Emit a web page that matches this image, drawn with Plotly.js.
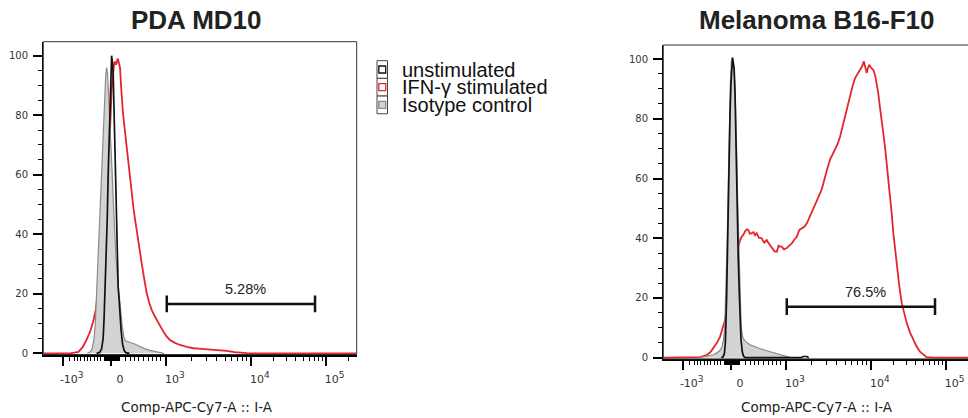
<!DOCTYPE html>
<html>
<head>
<meta charset="utf-8">
<script src="https://cdn.plot.ly/plotly-3.0.1.min.js"></script>
<style>
  html, body { margin: 0; padding: 0; overflow: hidden; background: #fff; }
  #chart { width: 980px; height: 418px; }
</style>
</head>
<body>
<div id="chart"></div>
<script>
// ---- Data (x in display channels of the biexponential axis, 0..1000; y = % of max) ----
const panelTitles = ["PDA MD10", "Melanoma B16-F10"];
const seriesNames = ["unstimulated", "IFN-\u03b3 stimulated", "Isotype control"];
const axisTitle = "Comp-APC-Cy7-A :: I-A";

// axis tick positions (display channel) and labels
const majorTickVals = [62, 216, 391, 662, 901];
const supStyle = "<span style='font-size:9px'>";
const majorTickText = ["-10<sup>" + supStyle + "3</span></sup>", "0", "10<sup>" + supStyle + "3</span></sup>", "10<sup>" + supStyle + "4</span></sup>", "10<sup>" + supStyle + "5</span></sup>"];
const negLinearTicks = [85, 99, 110, 120, 131, 142, 151, 163, 172, 184];
const posLinearTicks = [261, 277, 290, 305, 319, 335, 348, 362, 375];

// gate
const gateX = [394, 867];
const gateY = [16.6, 17.1];
const gateLabels = ["5.28%", "76.5%"];

// PDA MD10
const pdaRedX = [0,85,112,125,138,150,160,168,175,181,186,192,197,204,209,213,218,223,226,229,232,234,237,239,242,245,248,250,254,258,262,266,271,276,282,288,293,298,303,309,314,322,330,338,346,354,362,372,383,394,404,420,436,458,479,505,532,560,585,610,628,650,681,1000];
const pdaRedY = [0,0,0.5,2,4.5,7.5,11,15,21,27,32.5,40,46,58,67,75,88.5,96.3,97.5,98,97,97.5,99,98.6,97.5,95.8,90,86,81,77,73,70,64,58.5,52.6,48.5,44.8,41,37,33.5,30.2,25,20.2,17,14.5,12.8,11.2,9,7.3,5.6,4.5,3.5,2.8,2.2,1.7,1.5,1.3,1.0,0.8,0.4,0.2,0.05,0,0];
const pdaUnstimX = [170,180,186,191,194,197,200,204,207,211,214,216,218,220,223,225,227,229,231,234,236,239,242,245,248,253,258,263,275];
const pdaUnstimY = [0,0.3,1.5,5,12,20,28,45,60,78,90,96,100,98,94,85,75,62,50,37,28,22,18,12,8,3,1,0.2,0];
const pdaIsoX = [140,150,156,162,166,170,174,177,181,184,188,191,195,199,202,205,208,212,216,220,224,228,232,237,242,247,252,257,262,270,280,290,300,312,325,340,355,370,385];
const pdaIsoY = [0,0.5,1.5,5,10,20,30,40,50,60,70,78,87,93,96,94,88,80,70,60,50,40,32,25,19,14,9,5.5,4.2,3.9,3.6,3.2,2.7,2.1,1.5,1.0,0.6,0.3,0];

// Melanoma B16-F10
const melRedX = [0,100,117,128,138,150,160,170,181,190,197,202,207,212,218,226,234,240,245,250,255,262,267,271,276,282,288,293,298,305,314,322,330,335,340,347,355,362,368,372,378,385,394,402,410,418,426,434,442,450,458,466,474,482,490,498,505,511,516,524,532,540,548,556,564,572,580,588,596,604,612,620,628,634,640,645,649,653,657,663,670,676,681,686,691,697,702,708,713,718,723,729,734,740,745,753,761,769,777,787,798,808,819,830,840,862,1000];
const melRedY = [0,0,0.2,0.5,0.9,1.8,3.1,4.8,7,9.8,12.6,16,20.4,24.5,28.3,31.5,35,38,39.4,40.5,41.1,42.5,43,42.8,41.5,41.7,42,41,41.7,40.2,40,38.5,39.4,38.5,37.8,36.5,35.6,35.5,37.5,37.2,37.2,36.3,36.7,37.5,38.3,39.5,40.5,42.8,43.4,43.8,45,47,48.9,50.8,52.8,54.5,56.2,58.5,60.7,63.5,66.3,68,69.6,71.5,74,77.5,80.8,84,87.5,91,93.6,95,96.4,97.5,99.2,97,95.3,97,98.1,97,96.4,94.5,92,88.5,84.1,80,75.2,70,65.1,59.5,54,48,41.7,36,30.5,24,18.2,14.5,11.5,8.5,5.9,3.8,2,0.9,0.2,0,0];
const melUnstimX = [185,191,195,198,202,205,207,210,213,216,218,221,223,226,229,231,234,236,239,243,246,248,252,256,262,440,446,458,464];
const melUnstimY = [0,0.3,1.5,5,20,38,54,70,82,92,98,100.5,99,97,88,76,62,48,34,20,11,6,2,0.5,0,0,0.4,0.4,0];
const melIsoX = [115,130,145,160,172,181,187,192,196,200,204,208,211,214,217,220,223,226,229,232,235,237,240,243,245,248,250,253,258,265,277,293,308,325,340,360,383,398,410];
const melIsoY = [0,0.3,0.6,1,1.7,2.5,3.5,6,10,22,40,62,80,92,99,100.5,99,96,90,80,66,54,40,28,20,12,9,7,6,5.2,4.3,3.6,3.1,2.5,2,1.4,0.8,0.3,0];

// ---- Styling ----
const W = 980, H = 418;
const RED = '#e3262d', BLACK = '#111111', GREYLINE = '#8a8a8a', GREYFILL = '#d3d3d3';
const px = x => x / W;
const py = y => 1 - y / H;

// minor ticks on the x axis
function logMinor(a, b) { const out = []; for (let k = 2; k <= 9; k++) out.push(a + (b - a) * Math.log10(k)); return out; }
const clusterTicks = []; for (let c = 196; c <= 244; c += 3) clusterTicks.push(c);
const xMinor = [].concat(negLinearTicks, clusterTicks, posLinearTicks,
  logMinor(majorTickVals[2], majorTickVals[3]), logMinor(majorTickVals[3], majorTickVals[4]),
  [majorTickVals[4] + (majorTickVals[4] - majorTickVals[3]) * Math.log10(2)]);

function panelTraces(xa, ya, redX, redY, unX, unY, isoX, isoY, gi) {
  return [
    { x: redX, y: redY, xaxis: xa, yaxis: ya, type: 'scatter', mode: 'lines', line: { color: RED, width: 1.8 }, hoverinfo: 'skip', showlegend: false },
    { x: isoX, y: isoY, xaxis: xa, yaxis: ya, type: 'scatter', mode: 'lines', fill: 'tozeroy', fillcolor: GREYFILL, line: { color: GREYLINE, width: 1.2 }, hoverinfo: 'skip', showlegend: false },
    { x: unX, y: unY, xaxis: xa, yaxis: ya, type: 'scatter', mode: 'lines', line: { color: BLACK, width: 1.7 }, hoverinfo: 'skip', showlegend: false },
    { x: gateX, y: [gateY[gi], gateY[gi]], xaxis: xa, yaxis: ya, type: 'scatter', mode: 'lines+markers',
      line: { color: BLACK, width: 2.5 }, marker: { symbol: 'line-ns-open', size: 12, line: { width: 2.5, color: BLACK } },
      hoverinfo: 'skip', showlegend: false }
  ];
}

const data = [].concat(
  panelTraces('x', 'y', pdaRedX, pdaRedY, pdaUnstimX, pdaUnstimY, pdaIsoX, pdaIsoY, 0),
  panelTraces('x2', 'y2', melRedX, melRedY, melUnstimX, melUnstimY, melIsoX, melIsoY, 1)
);

function xAxis(domain, anchor) {
  return {
    domain: domain, anchor: anchor, range: [0, 1000], fixedrange: true,
    tickmode: 'array', tickvals: majorTickVals, ticktext: majorTickText,
    ticks: 'outside', ticklen: 9, tickwidth: 2, tickcolor: '#000',
    showline: true, linecolor: '#000', linewidth: 2, showgrid: false, zeroline: false,
    tickfont: { family: 'DejaVu Sans, sans-serif', size: 11, color: '#333' }, ticklabelstandoff: 4, ticklabelshift: 9,
    minor: { tickmode: 'array', tickvals: xMinor, ticks: 'outside', ticklen: 4, tickwidth: 1, tickcolor: '#000', showgrid: false }
  };
}
function yAxis(domain, anchor) {
  return {
    domain: domain, anchor: anchor, range: [-0.4, 104.7], fixedrange: true,
    tickmode: 'array', tickvals: [0, 20, 40, 60, 80, 100],
    ticks: 'outside', ticklen: 9, tickwidth: 2, tickcolor: '#000',
    showline: true, linecolor: '#000', linewidth: 1.3, showgrid: false, zeroline: false,
    tickfont: { family: 'DejaVu Sans, sans-serif', size: 10, color: '#333' }, ticklabelstandoff: 3,
    minor: { tick0: 0, dtick: 5, ticks: 'outside', ticklen: 4, tickwidth: 1, tickcolor: '#000', showgrid: false }
  };
}

const annotations = [];
const shapes = [];
const panels = [
  { xa: 'x', ya: 'y', titleY: 20.5, axTitleY: 406.5 },
  { xa: 'x2', ya: 'y2', titleY: 20.5, axTitleY: 406.5 }
];
panels.forEach((p, i) => {
  annotations.push({ text: '<b>' + panelTitles[i] + '</b>', xref: p.xa + ' domain', x: 0.49, yref: 'paper', y: py(p.titleY),
    xanchor: 'center', yanchor: 'middle', showarrow: false, font: { family: 'Liberation Sans, Arial, sans-serif', size: 26, color: '#222' } });
  annotations.push({ text: axisTitle, xref: p.xa + ' domain', x: 0.49, yref: 'paper', y: py(p.axTitleY),
    xanchor: 'center', yanchor: 'middle', showarrow: false, font: { family: 'DejaVu Sans, sans-serif', size: 13.5, color: '#222' } });
  annotations.push({ text: gateLabels[i], xref: p.xa, x: 645, yref: p.ya, y: gateY[i] + 5, xanchor: 'center', yanchor: 'middle',
    showarrow: false, font: { family: 'Liberation Sans, Arial, sans-serif', size: 14.5, color: '#222' } });
  shapes.push({ type: 'rect', xref: p.xa + ' domain', yref: p.ya + ' domain', x0: 0, x1: 1, y0: 0, y1: 1, line: { color: '#333', width: 1 }, layer: 'above' });
});

// legend (drawn in page pixels)
const legendRows = [
  { name: seriesNames[0], border: BLACK, fill: '#ffffff', cy: 69.5 },
  { name: seriesNames[1], border: RED, fill: '#ffffff', cy: 87.2 },
  { name: seriesNames[2], border: GREYLINE, fill: GREYFILL, cy: 104.9 }
];
legendRows.forEach(r => {
  shapes.push({ type: 'rect', xref: 'paper', yref: 'paper', x0: px(377), x1: px(387.5), y0: py(r.cy - 8.85), y1: py(r.cy + 8.85), line: { color: '#444', width: 1 }, fillcolor: '#fff' });
  shapes.push({ type: 'rect', xref: 'paper', yref: 'paper', x0: px(378.8), x1: px(385.7), y0: py(r.cy - 3.5), y1: py(r.cy + 3.5), line: { color: r.border, width: 1.3 }, fillcolor: r.fill });
  annotations.push({ text: r.name, xref: 'paper', yref: 'paper', x: px(400), y: py(r.cy), xanchor: 'left', yanchor: 'middle', showarrow: false,
    font: { family: 'Liberation Sans, Arial, sans-serif', size: 20, color: '#111' } });
});

const layout = {
  width: W, height: H, margin: { l: 0, r: 0, t: 0, b: 0 },
  paper_bgcolor: '#fff', plot_bgcolor: '#fff', showlegend: false,
  xaxis: xAxis([43.3 / W, 356.7 / W], 'y'),
  yaxis: yAxis([(H - 354.5) / H, (H - 41.7) / H], 'x'),
  xaxis2: xAxis([663.3 / W, 976.7 / W], 'y2'),
  yaxis2: yAxis([(H - 358.9) / H, (H - 45) / H], 'x2'),
  annotations: annotations, shapes: shapes
};

Plotly.newPlot('chart', data, layout, { displayModeBar: false, staticPlot: true });
</script>
</body>
</html>
